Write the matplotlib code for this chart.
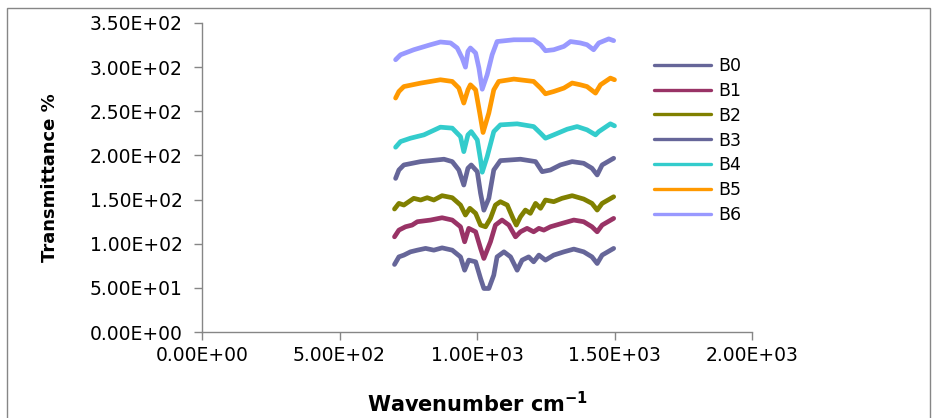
import matplotlib
matplotlib.use("Agg")
import matplotlib.pyplot as plt
from matplotlib.patches import Rectangle
from matplotlib.ticker import FuncFormatter, MultipleLocator

# FTIR spectra (wavenumber, transmittance) for the seven samples
wn_b0 = [700, 716, 734, 758, 783, 813, 843, 873, 910, 940, 955, 970, 995, 1013, 1025, 1043,
         1061, 1073, 1098, 1122, 1146, 1164, 1188, 1206, 1225, 1249, 1279, 1316, 1352, 1388,
         1418, 1437, 1455, 1497]
t_b0 = [76.5, 85.1, 87.1, 90.8, 92.7, 94.7, 92.7, 95.3, 92.7, 85.1, 70.0, 81.4, 79.5, 60.6,
        49.3, 49.3, 64.4, 85.1, 90.8, 85.1, 70.0, 81.4, 85.1, 79.5, 87.1, 81.4, 87.1, 90.8,
        93.9, 90.8, 85.1, 77.6, 87.1, 94.7]

wn_b1 = [700, 716, 740, 764, 783, 831, 873, 910, 940, 955, 970, 995, 1013, 1025, 1049, 1067,
         1091, 1116, 1140, 1158, 1182, 1206, 1225, 1243, 1267, 1309, 1352, 1388, 1418, 1437,
         1455, 1497]
t_b1 = [107.8, 115.4, 119.2, 121.1, 124.9, 126.8, 129.4, 126.8, 119.2, 102.2, 117.4, 113.5,
        94.7, 83.3, 102.2, 121.1, 126.8, 121.1, 107.8, 113.5, 117.4, 113.5, 117.4, 115.4,
        119.2, 123.0, 126.8, 124.9, 119.2, 113.5, 121.1, 128.7]

wn_b2 = [700, 716, 734, 752, 770, 795, 819, 843, 873, 910, 940, 958, 974, 995, 1013, 1031,
         1049, 1067, 1085, 1110, 1131, 1143, 1158, 1176, 1194, 1213, 1231, 1249, 1279, 1309,
         1346, 1388, 1418, 1437, 1455, 1497]
t_b2 = [139.3, 145.7, 143.8, 147.6, 151.4, 149.5, 152.1, 149.5, 154.4, 152.1, 143.8, 132.5,
        140.1, 134.4, 121.1, 119.2, 128.7, 143.8, 147.6, 143.8, 128.7, 121.1, 130.5, 138.1,
        134.4, 145.7, 140.1, 149.5, 147.6, 151.4, 154.4, 150.6, 145.7, 138.1, 145.7, 153.2]

wn_b3 = [704, 716, 734, 795, 880, 910, 934, 952, 967, 979, 1001, 1013, 1025, 1043, 1061,
         1085, 1158, 1213, 1237, 1267, 1303, 1346, 1388, 1418, 1437, 1455, 1497]
t_b3 = [174.0, 183.5, 189.2, 193.0, 195.7, 193.0, 183.5, 166.5, 185.5, 189.2, 181.6, 157.0,
        138.0, 151.4, 183.5, 194.1, 195.7, 193.0, 181.6, 183.5, 189.2, 193.0, 191.1, 185.5,
        177.9, 189.2, 196.8]

wn_b4 = [704, 722, 758, 807, 867, 910, 940, 952, 967, 979, 1001, 1013, 1019, 1037, 1061,
         1085, 1146, 1206, 1231, 1249, 1279, 1328, 1364, 1400, 1431, 1443, 1485, 1500]
t_b4 = [209.3, 215.7, 219.5, 223.3, 232.0, 230.9, 221.3, 204.3, 223.3, 227.0, 217.6, 194.9,
        181.0, 198.6, 227.0, 234.6, 235.8, 232.7, 225.2, 219.5, 223.3, 229.7, 232.7, 229.0,
        223.3, 227.0, 235.8, 233.5]

wn_b5 = [704, 716, 734, 795, 867, 910, 934, 952, 967, 976, 995, 1010, 1022, 1043, 1061,
         1079, 1134, 1206, 1231, 1249, 1279, 1316, 1346, 1376, 1400, 1431, 1449, 1485, 1500]
t_b5 = [265.0, 272.4, 278.0, 281.9, 285.7, 283.8, 276.3, 259.3, 274.3, 280.0, 274.3, 248.0,
        226.0, 248.0, 274.3, 283.8, 286.5, 283.8, 276.3, 269.8, 272.4, 276.3, 282.0, 280.0,
        278.0, 270.6, 280.0, 287.6, 285.7]

wn_b6 = [704, 722, 770, 831, 867, 904, 928, 946, 958, 967, 976, 995, 1007, 1019, 1037, 1055,
         1073, 1134, 1206, 1231, 1249, 1279, 1316, 1340, 1376, 1400, 1424, 1443, 1479, 1497]
t_b6 = [308.4, 314.0, 319.7, 325.4, 328.5, 327.4, 321.7, 310.3, 300.0, 317.8, 321.7, 316.0,
        299.0, 275.0, 291.4, 314.0, 329.0, 331.0, 331.0, 325.4, 318.6, 319.7, 323.5, 329.0,
        327.4, 325.4, 319.7, 327.4, 332.0, 330.0]

labels = ["B0", "B1", "B2", "B3", "B4", "B5", "B6"]
colors = ["#666699", "#993366", "#808000", "#666699", "#33CCCC", "#FF9900", "#9999FF"]
series = [(wn_b0, t_b0), (wn_b1, t_b1), (wn_b2, t_b2), (wn_b3, t_b3),
          (wn_b4, t_b4), (wn_b5, t_b5), (wn_b6, t_b6)]

axis_grey = "#868686"

fig = plt.figure(figsize=(9.36, 4.18), dpi=100)
ax = fig.add_axes([202 / 936, 1 - 332 / 418, 550 / 936, 309 / 418])

for (x, y), lab, col in zip(series, labels, colors):
    ax.plot(x, y, color=col, lw=3.4, label=lab, solid_capstyle="round",
            solid_joinstyle="round")

ax.set_xlim(0, 2000)
ax.set_ylim(0, 350)
ax.xaxis.set_major_locator(MultipleLocator(500))
ax.yaxis.set_major_locator(MultipleLocator(50))
sci = FuncFormatter(lambda v, pos: f"{v:.2E}")
ax.xaxis.set_major_formatter(sci)
ax.yaxis.set_major_formatter(sci)

for side in ["top", "right"]:
    ax.spines[side].set_visible(False)
for side in ["left", "bottom"]:
    ax.spines[side].set_color(axis_grey)
    ax.spines[side].set_linewidth(1.0)
ax.tick_params(axis="both", direction="out", length=6, width=1.0, color=axis_grey,
               labelsize=13.5, labelcolor="black")
ax.tick_params(axis="y", pad=8)
ax.tick_params(axis="x", pad=4)

ax.set_xlabel("Wavenumber cm$^{\\mathbf{-1}}$", fontsize=15, fontweight="bold", labelpad=19)
ax.set_ylabel("Transmittance %", fontsize=13, fontweight="bold", labelpad=22)

leg = ax.legend(loc="upper left", bbox_to_anchor=(645 / 936, 1 - 48 / 418),
                bbox_transform=fig.transFigure, frameon=False, fontsize=12.5,
                handlelength=3.3, handletextpad=0.4, labelspacing=0.4, borderpad=0)
for line in leg.get_lines():
    line.set_linewidth(2.4)

# grey outer chart border
fig.add_artist(Rectangle((7 / 936, -0.1), 923 / 936, 1.1 - 8 / 418, transform=fig.transFigure,
                         fill=False, edgecolor=axis_grey, lw=1.0, clip_on=False))

fig.savefig("out.png", dpi=100)
